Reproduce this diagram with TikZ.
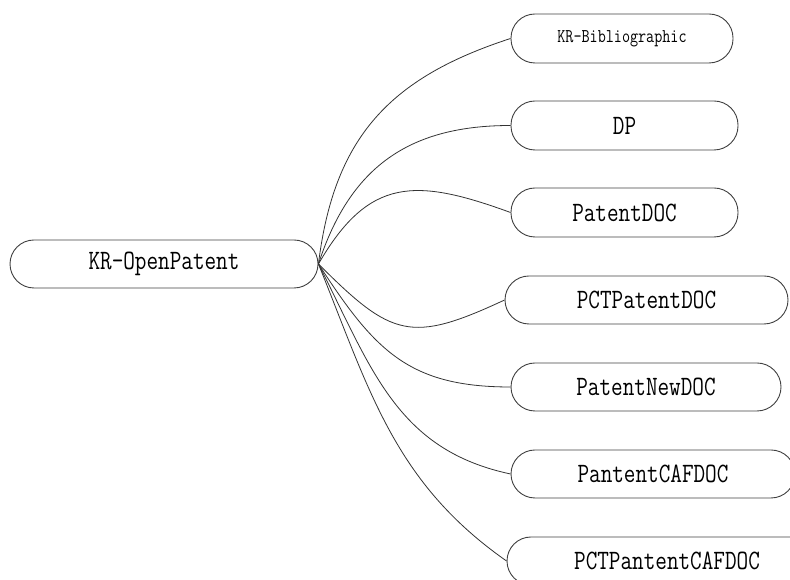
\documentclass[tikz,border=0pt]{standalone}
\usepackage{fontspec}
\usepackage{graphicx}
% labels are set in a tall, narrow typewriter face
\newcommand\tallt[1]{\scalebox{0.98}[1.22]{#1}}
\begin{document}
\begin{tikzpicture}[x=1pt,y=1pt,
  pill/.style={draw=black!75, line width=0.9pt, rectangle, rounded corners=24pt,
    minimum height=48pt, inner sep=0pt, font=\ttfamily\fontsize{23}{25}\selectfont},
  small/.style={font=\ttfamily\fontsize{16}{18}\selectfont},
  branch/.style={draw=black!80, line width=0.8pt}]
\useasboundingbox (0,0) rectangle (790,580);
\clip (0,0) rectangle (790,580);
% root topic
\node[pill, minimum width=308pt] (root) at (164,316) {\tallt{KR-OpenPatent}};
% sub-topics
\node[pill, small, minimum width=222pt, minimum height=49pt] (bib) at (622,541.5) {\tallt{KR-Bibliographic}};
\node[pill, minimum width=227pt, minimum height=49pt] (dp) at (624.5,454.5) {\tallt{DP}};
\node[pill, minimum width=227pt, minimum height=49pt] (pdoc) at (624.5,367.5) {\tallt{PatentDOC}};
\node[pill, minimum width=283pt] (pct) at (646.5,280) {\tallt{PCTPatentDOC}};
\node[pill, minimum width=270pt] (pnew) at (646,193) {\tallt{PatentNewDOC}};
\node[pill, minimum width=284pt] (caf) at (653,106) {\tallt{PantentCAFDOC}};
\node[pill, minimum width=320pt] (pctcaf) at (667,19) {\tallt{PCTPantentCAFDOC}};
% branches
\draw[branch] (root.east) to[out=83,in=198,looseness=1.1] (bib.west);
\draw[branch] (root.east) to[out=72,in=180,looseness=1.1] (dp.west);
\draw[branch] (root.east) to[out=60,in=160,looseness=1.3] (pdoc.west);
\draw[branch] (root.east) to[out=-45,in=205,looseness=1.4] (pct.west);
\draw[branch] (root.east) to[out=-57,in=180,looseness=1.15] (pnew.west);
\draw[branch] (root.east) to[out=-63,in=168,looseness=1.05] (caf.west);
\draw[branch] (root.east) to[out=-68,in=145] (pctcaf.west);
\end{tikzpicture}
\end{document}
